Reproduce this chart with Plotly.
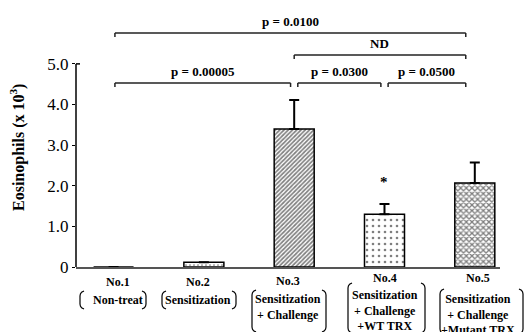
import plotly.graph_objects as go

# ---------------- data ----------------
categories = ["No.1", "No.2", "No.3", "No.4", "No.5"]
eosinophils = [0.0, 0.12, 3.40, 1.30, 2.07]
sem_upper = [None, None, 0.71, 0.25, 0.50]
group_desc = [
    ["Non-treat"],
    ["Sensitization"],
    ["Sensitization", "+ Challenge"],
    ["Sensitization", "+ Challenge", "+WT TRX"],
    ["Sensitization", "+ Challenge", "+Mutant TRX"],
]
y_tickvals = [0, 1, 2, 3, 4, 5]
y_ticktext = ["0", "1.0", "2.0", "3.0", "4.0", "5.0"]
# comparisons: (from index, to index, label, level)
comparisons = [
    (0, 4, "p = 0.0100", 2),
    (2, 4, "ND", 1),
    (0, 2, "p = 0.00005", 0),
    (2, 3, "p = 0.0300", 0),
    (3, 4, "p = 0.0500", 0),
]

# ---------------- layout constants ----------------
W, H = 526, 332
ML, MR, MT, MB = 76, 26, 7, 65
PW, PH = W - ML - MR, H - MT - MB
YMAX = 6.4
XR = [-0.416, 4.279]

def pxx(px):
    return (px - ML) / PW

def pxy(py):
    return (H - MB - py) / PH

SERIF = "Liberation Serif, Times New Roman, serif"

patterns = dict(
    shape=["", ".", "/", ".", "x"],
    size=[4, 4, 3, 6, 4],
    solidity=[0.1, 0.15, 0.55, 0.15, 0.55],
    fgcolor="black",
    bgcolor="white",
)

fig = go.Figure()
fig.add_trace(go.Bar(
    x=categories, y=eosinophils, width=0.443,
    marker=dict(color="white", line=dict(color="black", width=1.5), pattern=patterns),
    error_y=dict(type="data", symmetric=False, array=sem_upper,
                 arrayminus=[0] * len(categories),
                 color="black", thickness=2, width=5),
    showlegend=False,
))

shapes = []
annotations = []

# y axis line with top hook
shapes.append(dict(type="line", xref="paper", yref="y", x0=0, x1=0, y0=0, y1=5,
                   line=dict(color="black", width=1.5)))
shapes.append(dict(type="line", xref="paper", yref="y", x0=0, x1=4 / PW, y0=5, y1=5,
                   line=dict(color="black", width=1.5)))

# brackets
level_y = {0: 4.53, 1: 5.22, 2: 5.76}
gap = 0.04
for (a, b, lab, lvl) in comparisons:
    y = level_y[lvl]
    x0 = a + (gap if lvl == 0 and a != 0 else 0) + (0.015 if a == 0 else 0)
    x1 = b - (gap if lvl == 0 and b != 4 else 0) - (0.10 if b == 4 else 0)
    tip = 0.1
    for seg in [(x0, y, x1, y), (x0, y, x0, y - tip), (x1, y, x1, y - tip)]:
        shapes.append(dict(type="line", xref="x", yref="y",
                           x0=seg[0], y0=seg[1], x1=seg[2], y1=seg[3],
                           line=dict(color="#222", width=1.5)))
    annotations.append(dict(x=(x0 + x1) / 2, y=y + 0.28, xref="x", yref="y",
                            xanchor="center", yanchor="middle",
                            text=f"<b>{lab}</b>", showarrow=False,
                            font=dict(family=SERIF, size=13, color="black")))

# star over No.4
annotations.append(dict(x=3, y=2.09, xref="x", yref="y", text="<b>*</b>",
                        xanchor="center", yanchor="middle",
                        showarrow=False, font=dict(family=SERIF, size=15, color="black")))

# y axis title
annotations.append(dict(x=pxx(17), y=pxy(148), xref="paper", yref="paper",
                        xanchor="center", yanchor="middle",
                        text="<b>Eosinophils (x 10<sup>3</sup>)</b>", textangle=-90,
                        showarrow=False, font=dict(family=SERIF, size=16, color="black")))

# category labels
label_px = [118, 198, 288, 385, 478]
head_py = [282, 282, 281, 278, 278]
body_py = [300, 300, 307, 310, 314]
paren_px = [(80, 146, 291, 309), (162, 236, 291, 309), (252, 326, 290, 332),
            (348, 425, 283, 333), (440, 523, 289, 334)]


def paren_path(xe, xo, ty, by):
    # xe: outer edge x (curve apex), xo: end x of the hooks
    r = 5
    pts = [(xo, ty), (xe + (xo - xe) * 0.4, ty + 1.2), (xe + (xo - xe) * 0.1, ty + 3),
           (xe, ty + r), (xe, by - r), (xe + (xo - xe) * 0.1, by - 3),
           (xe + (xo - xe) * 0.4, by - 1.2), (xo, by)]
    return "M " + " L ".join(f"{pxx(px):.5f},{pxy(py):.5f}" for px, py in pts)


for i, cat in enumerate(categories):
    annotations.append(dict(x=pxx(label_px[i]), y=pxy(head_py[i]), xref="paper", yref="paper",
                            xanchor="center", yanchor="middle",
                            text=f"<b>{cat}</b>", showarrow=False,
                            font=dict(family=SERIF, size=12, color="black")))
    annotations.append(dict(x=pxx(label_px[i]), y=pxy(body_py[i]), xref="paper", yref="paper",
                            text="<br>".join(f"<b>{t}</b>" for t in group_desc[i]),
                            showarrow=False, align="center", xanchor="center", yanchor="middle",
                            font=dict(family=SERIF, size=12, color="black")))
    lx, rx, ty, by = paren_px[i]
    d = 4
    for p in (paren_path(lx, lx + d, ty, by), paren_path(rx, rx - d, ty, by)):
        shapes.append(dict(type="path", xref="paper", yref="paper", path=p,
                           line=dict(color="black", width=1.2)))

fig.update_layout(
    width=W, height=H,
    margin=dict(l=ML, r=MR, t=MT, b=MB),
    paper_bgcolor="white", plot_bgcolor="white",
    xaxis=dict(type="category", range=XR, showticklabels=False, ticks="",
               showline=True, linecolor="#555", linewidth=1.5, showgrid=False,
               zeroline=False, fixedrange=True),
    yaxis=dict(range=[0, YMAX], tickvals=y_tickvals, ticktext=y_ticktext,
               ticks="outside", ticklen=3, tickcolor="black", showline=False,
               showgrid=False, zeroline=False,
               tickfont=dict(family=SERIF, size=17, color="black")),
    shapes=shapes, annotations=annotations,
    bargap=0.5,
)

fig.write_html("out.html")
